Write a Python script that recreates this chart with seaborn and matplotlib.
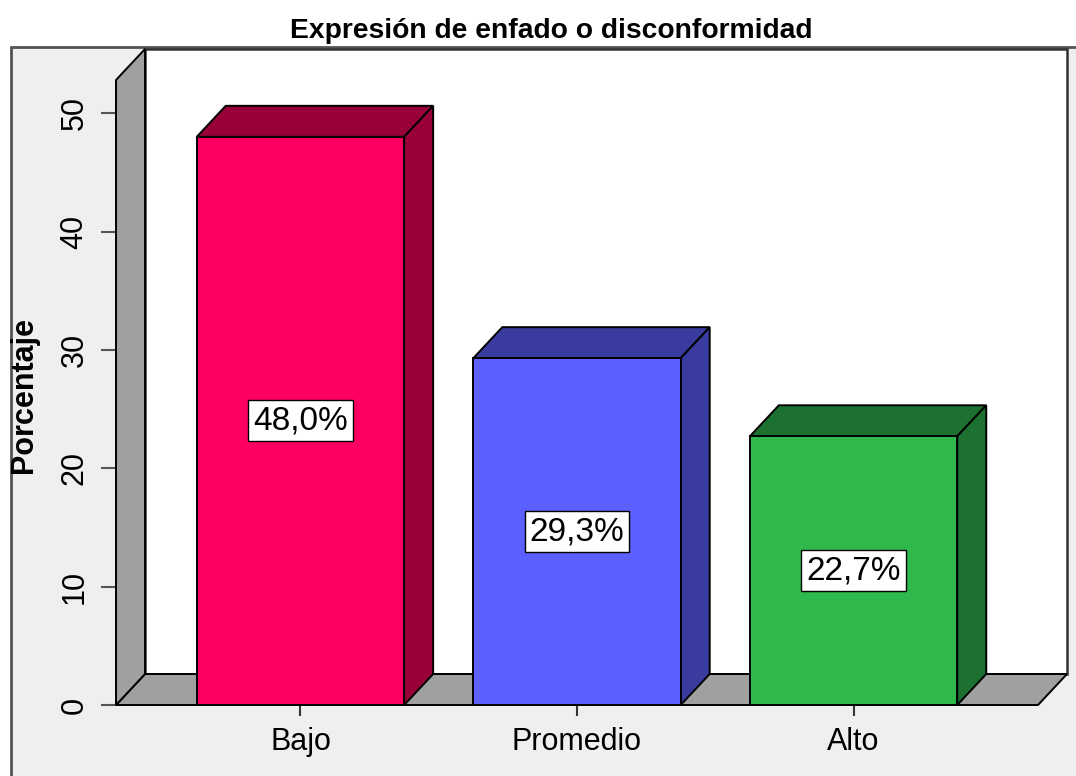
import matplotlib
matplotlib.use("Agg")
import matplotlib.pyplot as plt
from matplotlib.patches import Polygon, Rectangle
import seaborn as sns
import pandas as pd

# Data
categories = ["Bajo", "Promedio", "Alto"]
percentages = [48.0, 29.3, 22.7]
front_colors = ["#ff0062", "#5b60ff", "#2fb84b"]
shade_colors = ["#99003a", "#393c9e", "#1c7030"]
y_ticks = [0, 10, 20, 30, 40, 50]

title = "Expresión de enfado o disconformidad"
y_label = "Porcentaje"

sns.set_theme(style="white")
plt.rcParams["font.family"] = ["Liberation Sans", "DejaVu Sans"]

W, H = 1076, 776
fig = plt.figure(figsize=(W / 100, H / 100), dpi=100)
fig.patch.set_facecolor("white")

# Outer light-gray chart frame
fig.patches.append(Rectangle((11 / W, -0.01), 1.02, (H - 47) / H + 0.01,
                             transform=fig.transFigure, facecolor="#efefef",
                             edgecolor="#555555", linewidth=2.0, zorder=-5))

# Front plane of the 3D box (pixels)
px_left, px_right, px_bottom, px_top = 116, 1038, 705, 80
ax = fig.add_axes([px_left / W, (H - px_bottom) / H,
                   (px_right - px_left) / W, (px_bottom - px_top) / H])
ax.set_zorder(1)
ax.patch.set_visible(False)

df = pd.DataFrame({"categoria": categories, "porcentaje": percentages})
sns.barplot(data=df, x="categoria", y="porcentaje", hue="categoria",
            palette=front_colors, saturation=1, width=0.75, edgecolor="black",
            linewidth=1.4, legend=False, ax=ax, zorder=5)

xmin, xmax = -0.667, 2.667
ymin, ymax = 0, 52.8
ax.set_xlim(xmin, xmax)
ax.set_ylim(ymin, ymax)

# Depth offset (pixels -> data units)
depth_px_x, depth_px_y = 29, 31
ddx = depth_px_x * (xmax - xmin) / (px_right - px_left)
ddy = depth_px_y * (ymax - ymin) / (px_bottom - px_top)

# Back wall, floor and side wall
wall = "#a0a0a0"
ax.add_patch(Rectangle((xmin + ddx, ymin + ddy), xmax - xmin, ymax - ymin,
                       facecolor="white", edgecolor="#333333", linewidth=1.8,
                       clip_on=False, zorder=1))
ax.add_patch(Polygon([(xmin, ymin), (xmax, ymin), (xmax + ddx, ymin + ddy),
                      (xmin + ddx, ymin + ddy)], closed=True, facecolor=wall,
                     edgecolor="black", linewidth=1.4, clip_on=False, zorder=2))
ax.add_patch(Polygon([(xmin, ymin), (xmin + ddx, ymin + ddy),
                      (xmin + ddx, ymax + ddy), (xmin, ymax)], closed=True,
                     facecolor=wall, edgecolor="black", linewidth=1.4,
                     clip_on=False, zorder=2))

# Top and side faces of each bar
bw = 0.75
for i, (v, c) in enumerate(zip(percentages, shade_colors)):
    l, r = i - bw / 2, i + bw / 2
    ax.add_patch(Polygon([(l, v), (r, v), (r + ddx, v + ddy), (l + ddx, v + ddy)],
                         closed=True, facecolor=c, edgecolor="black",
                         linewidth=1.4, clip_on=False, zorder=4))
    ax.add_patch(Polygon([(r, 0), (r + ddx, ddy), (r + ddx, v + ddy), (r, v)],
                         closed=True, facecolor=c, edgecolor="black",
                         linewidth=1.4, clip_on=False, zorder=4))
    label = f"{v:.1f}%".replace(".", ",")
    ax.text(i, v / 2, label, ha="center", va="center", fontsize=24,
            color="black", zorder=7,
            bbox=dict(boxstyle="square,pad=0.15", facecolor="white",
                      edgecolor="black", linewidth=1.0))

for s in ax.spines.values():
    s.set_visible(False)

ax.set_yticks(y_ticks)
ax.set_yticklabels([str(t) for t in y_ticks], rotation=90, va="center")
ax.tick_params(axis="y", which="major", direction="out", length=11, width=1.5,
               color="#555555", labelsize=22, labelcolor="black", pad=8,
               left=True)
ax.tick_params(axis="x", which="major", direction="out", length=8, width=1.5,
               color="#333333", labelsize=22, labelcolor="black", pad=8,
               bottom=True)
ax.set_xlabel("")
ax.set_ylabel("")

fig.text(551 / W, 1 - 31 / H, title, ha="center", va="center",
         fontsize=20.3, fontweight="bold", color="black")
fig.text(24 / W, 1 - 395 / H, y_label, ha="center", va="center",
         rotation=90, fontsize=22, fontweight="bold", color="black")

fig.savefig("out.png", dpi=100)
